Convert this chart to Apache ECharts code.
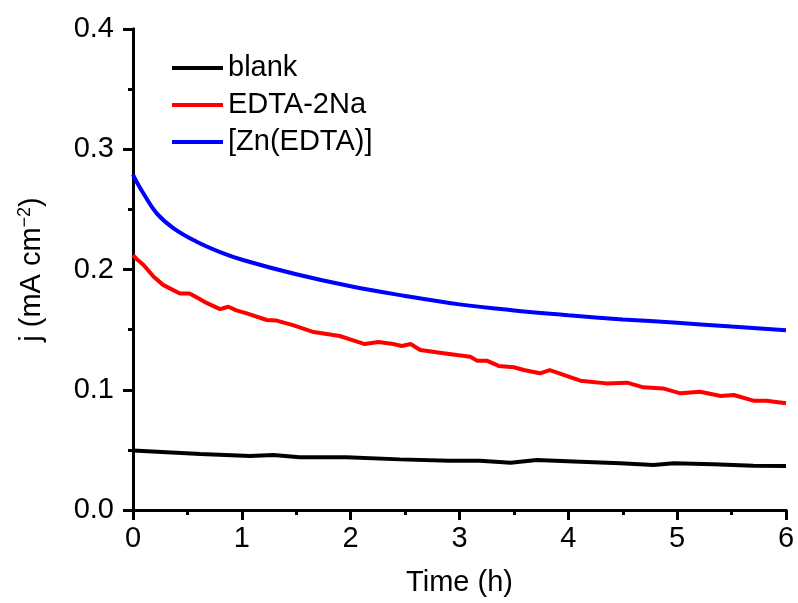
<!DOCTYPE html>
<html>
<head>
<meta charset="utf-8">
<script src="https://cdn.jsdelivr.net/npm/echarts@6/dist/echarts.min.js"></script>
<style>html,body{margin:0;padding:0;background:#fff;}#c{width:798px;height:603px;}</style>
</head>
<body>
<div id="c"></div>
<script>
var seriesNames = ['blank', 'EDTA-2Na', '[Zn(EDTA)]'];
var xTicks = [0, 1, 2, 3, 4, 5, 6];
var yTicks = [0.0, 0.1, 0.2, 0.3, 0.4];

var blankT = [0, 0.62, 1.075, 1.29, 1.53, 1.96, 2.45, 2.91, 3.19, 3.47, 3.71, 4.11, 4.48, 4.78, 4.97, 5.33, 5.70, 6.0];
var blankJ = [0.0495, 0.0466, 0.0449, 0.0457, 0.0438, 0.0438, 0.0421, 0.041, 0.041, 0.0393, 0.0416, 0.0402, 0.0388, 0.0374, 0.0388, 0.038, 0.0368, 0.0366];

var edtaT = [0, 0.03, 0.095, 0.19, 0.28, 0.43, 0.52, 0.6, 0.68, 0.8, 0.876, 0.95, 1.045, 1.23, 1.32, 1.47, 1.66, 1.84, 1.90, 1.995, 2.13, 2.255, 2.39, 2.47, 2.55, 2.64, 2.82, 2.975, 3.10, 3.16, 3.25, 3.36, 3.5, 3.59, 3.74, 3.83, 3.99, 4.11, 4.35, 4.54, 4.69, 4.87, 5.03, 5.21, 5.4, 5.52, 5.7, 5.82, 6.0];
var edtaJ = [0.212, 0.209, 0.204, 0.194, 0.187, 0.180, 0.180, 0.176, 0.172, 0.167, 0.169, 0.166, 0.1635, 0.158, 0.1575, 0.1538, 0.148, 0.1455, 0.1447, 0.1419, 0.138, 0.1397, 0.138, 0.1364, 0.138, 0.133, 0.1308, 0.1289, 0.1275, 0.1242, 0.1242, 0.1198, 0.1187, 0.1164, 0.1137, 0.1164, 0.1114, 0.1075, 0.1053, 0.1059, 0.102, 0.1011, 0.097, 0.0984, 0.0948, 0.0956, 0.0909, 0.0909, 0.0887];

var znT = [0, 0.03, 0.095, 0.218, 0.37, 0.585, 0.8, 1.01, 1.5, 2, 2.5, 3, 3.5, 4, 4.5, 5, 5.5, 6];
var znJ = [0.279, 0.2735, 0.2634, 0.2467, 0.2345, 0.2231, 0.2145, 0.2079, 0.196, 0.186, 0.178, 0.171, 0.166, 0.162, 0.1585, 0.1557, 0.1525, 0.1495];

function pairs(t, j) { return t.map(function (v, i) { return [v, j[i]]; }); }

var FONT = 'Liberation Sans, Arial, sans-serif';
var FS = 29;
var chart = echarts.init(document.getElementById('c'), null, { renderer: 'canvas' });
var axisLine = { show: true, lineStyle: { color: '#000', width: 3 } };

chart.setOption({
  animation: false,
  backgroundColor: '#fff',
  grid: { left: 133, right: 12, top: 29, bottom: 93, containLabel: false },
  legend: {
    orient: 'vertical', left: 167, top: 48,
    icon: 'rect', itemWidth: 51, itemHeight: 4, itemGap: 7,
    data: seriesNames,
    textStyle: { fontFamily: FONT, fontSize: FS, color: '#000', lineHeight: 30 }
  },
  xAxis: [{
    type: 'value', min: xTicks[0], max: xTicks[xTicks.length - 1], interval: 1,
    name: 'Time (h)', nameLocation: 'middle', nameGap: 58,
    nameTextStyle: { fontFamily: FONT, fontSize: FS, color: '#000' },
    axisLine: axisLine,
    axisTick: { show: true, inside: false, length: 10, lineStyle: { color: '#000', width: 3 } },
    minorTick: { show: true, splitNumber: 2, length: 5, lineStyle: { color: '#000', width: 3 } },
    axisLabel: { fontFamily: FONT, fontSize: FS, color: '#000', margin: 14 },
    splitLine: { show: false }
  }, {
    type: 'value', position: 'top', min: 0, max: 6, interval: 1,
    axisLine: axisLine, axisTick: { show: false }, axisLabel: { show: false }, splitLine: { show: false }
  }],
  yAxis: [{
    type: 'value', min: yTicks[0], max: yTicks[yTicks.length - 1], interval: 0.1,
    name: '{a|j (mA cm}{s|−2}{a|)}', nameLocation: 'middle', nameGap: 85, nameRotate: 90,
    nameTextStyle: {
      rich: {
        a: { fontFamily: FONT, fontSize: FS, color: '#000', lineHeight: 32 },
        s: { fontFamily: FONT, fontSize: 18, color: '#000', verticalAlign: 'top', lineHeight: 32 }
      }
    },
    axisLine: axisLine,
    axisTick: { show: true, inside: false, length: 10, lineStyle: { color: '#000', width: 3 } },
    minorTick: { show: true, splitNumber: 2, length: 5, lineStyle: { color: '#000', width: 3 } },
    axisLabel: { fontFamily: FONT, fontSize: FS, color: '#000', margin: 19, formatter: function (v) { return v.toFixed(1); } },
    splitLine: { show: false }
  }, {
    type: 'value', position: 'right', min: 0, max: 0.4, interval: 0.1,
    axisLine: axisLine, axisTick: { show: false }, axisLabel: { show: false }, splitLine: { show: false }
  }],
  series: [
    { name: seriesNames[0], type: 'line', data: pairs(blankT, blankJ), showSymbol: false,
      color: '#000', lineStyle: { color: '#000', width: 4 } },
    { name: seriesNames[1], type: 'line', data: pairs(edtaT, edtaJ), showSymbol: false,
      color: '#ff0000', lineStyle: { color: '#ff0000', width: 4 } },
    { name: seriesNames[2], type: 'line', data: pairs(znT, znJ), showSymbol: false, smooth: 0.4,
      color: '#0000ff', lineStyle: { color: '#0000ff', width: 4 } }
  ]
});
</script>
</body>
</html>
